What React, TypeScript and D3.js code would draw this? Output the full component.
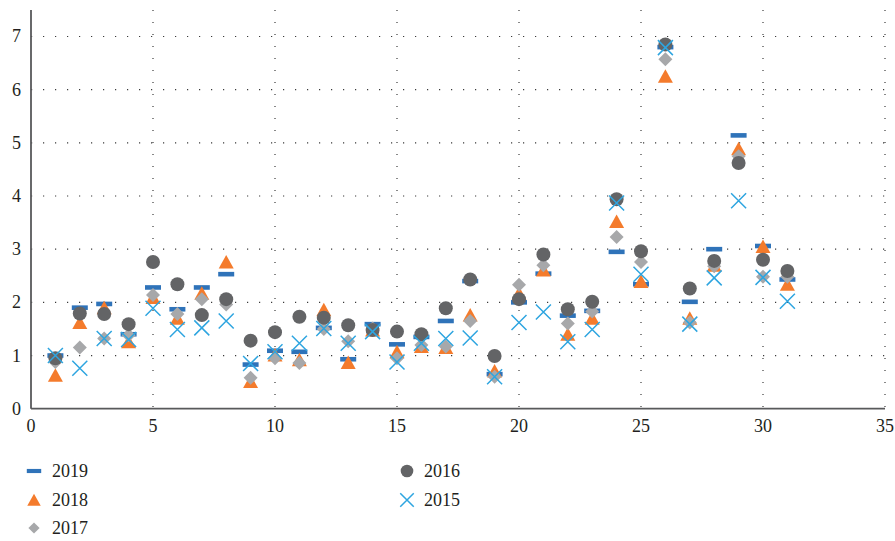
import React, { useEffect, useRef } from 'react';
import * as d3 from 'd3';

const days = [1, 2, 3, 4, 5, 6, 7, 8, 9, 10, 11, 12, 13, 14, 15, 16, 17, 18, 19, 20, 21, 22, 23, 24, 25, 26, 27, 28, 29, 30, 31];

const s2019 = [1.0, 1.9, 1.97, 1.4, 2.28, 1.87, 2.28, 2.53, 0.83, 1.09, 1.07, 1.52, 0.93, 1.59, 1.21, 1.35, 1.65, 2.4, 0.65, 2.0, 2.54, 1.75, 1.84, 2.95, 2.34, 6.8, 2.01, 3.0, 5.14, 3.06, 2.43];
const s2018 = [0.63, 1.62, 1.9, 1.26, 2.09, 1.7, 2.17, 2.76, 0.51, 1.01, 0.92, 1.86, 0.87, 1.48, 1.07, 1.17, 1.15, 1.76, 0.71, 2.17, 2.61, 1.4, 1.7, 3.52, 2.39, 6.25, 1.7, 2.7, 4.89, 3.05, 2.34];
const s2017 = [0.88, 1.15, 1.32, 1.38, 2.14, 1.78, 2.06, 1.96, 0.58, 0.95, 0.86, 1.5, 1.27, 1.51, 0.95, 1.2, 1.17, 1.65, 0.6, 2.33, 2.7, 1.6, 1.83, 3.23, 2.76, 6.57, 1.62, 2.68, 4.75, 2.48, 2.48];
const s2016 = [0.95, 1.79, 1.78, 1.59, 2.76, 2.34, 1.76, 2.06, 1.28, 1.44, 1.73, 1.71, 1.57, 1.48, 1.45, 1.4, 1.89, 2.43, 0.99, 2.06, 2.9, 1.87, 2.01, 3.94, 2.96, 6.85, 2.26, 2.78, 4.62, 2.8, 2.59];
const s2015 = [1.0, 0.76, 1.32, 1.3, 1.89, 1.49, 1.52, 1.65, 0.85, 1.07, 1.23, 1.51, 1.23, 1.45, 0.88, 1.23, 1.32, 1.33, 0.6, 1.62, 1.82, 1.26, 1.49, 3.87, 2.53, 6.79, 1.59, 2.46, 3.91, 2.47, 2.02];

const xTicks = [0, 5, 10, 15, 20, 25, 30, 35];
const yTicks = [0, 1, 2, 3, 4, 5, 6, 7];

const series = [
  { name: '2019', values: s2019, shape: 'dash', color: '#2f73b9' },
  { name: '2018', values: s2018, shape: 'triangle', color: '#f47b2c' },
  { name: '2017', values: s2017, shape: 'diamond', color: '#a7a8aa' },
  { name: '2016', values: s2016, shape: 'circle', color: '#636466' },
  { name: '2015', values: s2015, shape: 'x', color: '#2ea5e0' },
];

const FONT = "'Liberation Serif', 'Times New Roman', serif";

function drawMarker(g: any, shape: string, color: string, cx: number, cy: number, k = 1) {
  if (shape === 'dash') {
    g.append('rect')
      .attr('x', cx - 8 * k).attr('y', cy - 2.3 * k)
      .attr('width', 16 * k).attr('height', 4.6 * k)
      .attr('fill', color);
  } else if (shape === 'triangle') {
    g.append('path')
      .attr('d', `M${cx},${cy - 7 * k}L${cx + 7.5 * k},${cy + 6.5 * k}L${cx - 7.5 * k},${cy + 6.5 * k}Z`)
      .attr('fill', color);
  } else if (shape === 'diamond') {
    g.append('path')
      .attr('d', `M${cx},${cy - 7 * k}L${cx + 7 * k},${cy}L${cx},${cy + 7 * k}L${cx - 7 * k},${cy}Z`)
      .attr('fill', color);
  } else if (shape === 'circle') {
    g.append('circle').attr('cx', cx).attr('cy', cy).attr('r', 7 * k).attr('fill', color);
  } else {
    const r = 7.5 * k;
    g.append('path')
      .attr('d', `M${cx - r},${cy - r}L${cx + r},${cy + r}M${cx - r},${cy + r}L${cx + r},${cy - r}`)
      .attr('stroke', color).attr('stroke-width', 1.5).attr('fill', 'none');
  }
}

const App: React.FC = () => {
  const ref = useRef<SVGSVGElement | null>(null);

  useEffect(() => {
    if (!ref.current) return;
    const svg = d3.select(ref.current);
    svg.selectAll('*').remove();

    const x = d3.scaleLinear().domain([0, 35]).range([31, 885]);
    const y = d3.scaleLinear().domain([0, 7.5]).range([408.7, 9.9]);

    // dotted grid
    svg.append('g')
      .selectAll('line')
      .data(yTicks.slice(1))
      .enter()
      .append('line')
      .attr('x1', x(0)).attr('x2', x(35))
      .attr('y1', (d) => y(d)).attr('y2', (d) => y(d))
      .attr('stroke', '#3a3a3a').attr('stroke-width', 1.2)
      .attr('stroke-dasharray', '1.2 10.8');

    svg.append('g')
      .selectAll('line')
      .data(xTicks.slice(1))
      .enter()
      .append('line')
      .attr('x1', (d) => x(d)).attr('x2', (d) => x(d))
      .attr('y1', y(7.5)).attr('y2', y(0))
      .attr('stroke', '#3a3a3a').attr('stroke-width', 1.2)
      .attr('stroke-dasharray', '1.2 10.8');

    // axes lines
    svg.append('line')
      .attr('x1', x(0)).attr('x2', x(0)).attr('y1', y(7.5)).attr('y2', y(0))
      .attr('stroke', '#58595b').attr('stroke-width', 1.8);
    svg.append('line')
      .attr('x1', x(0)).attr('x2', x(35)).attr('y1', y(0)).attr('y2', y(0))
      .attr('stroke', '#58595b').attr('stroke-width', 1.8);

    // tick labels
    svg.append('g')
      .selectAll('text')
      .data(yTicks)
      .enter()
      .append('text')
      .attr('x', 21).attr('y', (d) => y(d) + 6)
      .attr('text-anchor', 'end')
      .style('font-family', FONT).attr('font-size', 18).attr('fill', '#231f20')
      .text((d) => d);

    svg.append('g')
      .selectAll('text')
      .data(xTicks)
      .enter()
      .append('text')
      .attr('x', (d) => x(d)).attr('y', 432)
      .attr('text-anchor', 'middle')
      .style('font-family', FONT).attr('font-size', 18).attr('fill', '#231f20')
      .text((d) => d);

    // points
    series.forEach((s) => {
      const g = svg.append('g');
      s.values.forEach((v, i) => drawMarker(g, s.shape, s.color, x(days[i]), y(v)));
    });

    // legend
    const legendPos = [
      { mx: 34, tx: 52, y: 471 },
      { mx: 34, tx: 52, y: 500 },
      { mx: 34, tx: 52, y: 528 },
      { mx: 407, tx: 424, y: 471 },
      { mx: 407, tx: 424, y: 500 },
    ];
    const lg = svg.append('g');
    series.forEach((s, i) => {
      const p = legendPos[i];
      drawMarker(lg, s.shape, s.color, p.mx, p.y, s.shape === 'diamond' ? 0.8 : 0.9);
      lg.append('text')
        .attr('x', p.tx).attr('y', p.y + 6)
        .style('font-family', FONT).attr('font-size', 18).attr('fill', '#231f20')
        .text(s.name);
    });
  }, []);

  return (
    <svg
      ref={ref}
      width={895}
      height={541}
      style={{ position: 'absolute', left: 0, top: 0, background: '#fff' }}
    />
  );
};

export default App;
